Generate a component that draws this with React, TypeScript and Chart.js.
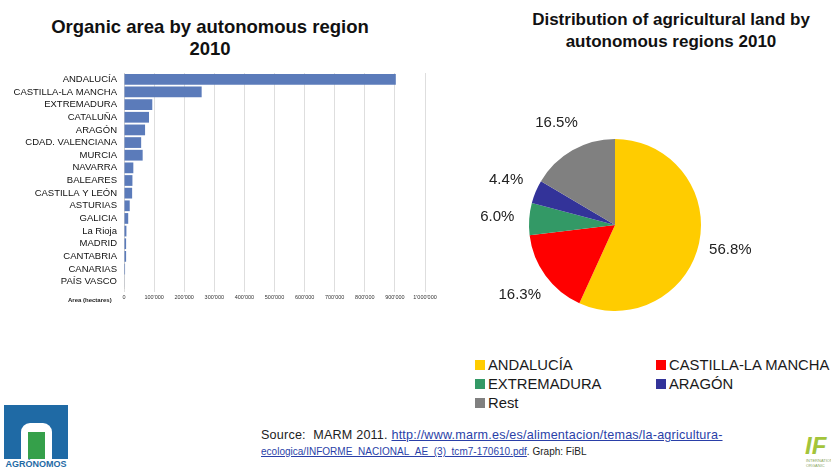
import React, { useEffect, useRef } from "react";
import { Chart, registerables } from "chart.js";

Chart.register(...registerables);

// ---------- data ----------
const regions = [
  "ANDALUCÍA",
  "CASTILLA-LA MANCHA",
  "EXTREMADURA",
  "CATALUÑA",
  "ARAGÓN",
  "CDAD. VALENCIANA",
  "MURCIA",
  "NAVARRA",
  "BALEARES",
  "CASTILLA Y LEÓN",
  "ASTURIAS",
  "GALICIA",
  "La Rioja",
  "MADRID",
  "CANTABRIA",
  "CANARIAS",
  "PAÍS VASCO",
];
const organicArea = [
  903000, 258000, 94000, 83000, 70000, 57000, 62000, 31000, 28000, 27000,
  19000, 14000, 8000, 7000, 7000, 3500, 1500,
];
const xTickLabels = [
  "0",
  "100'000",
  "200'000",
  "300'000",
  "400'000",
  "500'000",
  "600'000",
  "700'000",
  "800'000",
  "900'000",
  "1'000'000",
];
const pieLabels = ["ANDALUCÍA", "CASTILLA-LA MANCHA", "EXTREMADURA", "ARAGÓN", "Rest"];
const pieShares = [56.8, 16.3, 6.0, 4.4, 16.5];
const pieColors = ["#FFCC00", "#FF0000", "#339966", "#333399", "#808080"];

const FONT = '"Liberation Sans", Arial, Helvetica, sans-serif';

const pieLabelPlugin = {
  id: "pieOutsideLabels",
  afterDatasetsDraw(chart: any) {
    const ctx = chart.ctx;
    const meta = chart.getDatasetMeta(0);
    ctx.save();
    ctx.font = `15px ${FONT}`;
    ctx.fillStyle = "#222222";
    ctx.textAlign = "center";
    ctx.textBaseline = "middle";
    meta.data.forEach((arc: any, i: number) => {
      const p = arc.getProps(["x", "y", "startAngle", "endAngle", "outerRadius"], true);
      const mid = (p.startAngle + p.endAngle) / 2;
      const d = p.outerRadius + 32;
      ctx.fillText(
        pieShares[i].toFixed(1) + "%",
        p.x + Math.cos(mid) * d,
        p.y + Math.sin(mid) * d
      );
    });
    ctx.restore();
  },
};

function BarChart() {
  const ref = useRef<HTMLCanvasElement>(null);
  useEffect(() => {
    if (!ref.current) return;
    const chart = new Chart(ref.current, {
      type: "bar",
      data: {
        labels: regions,
        datasets: [
          {
            data: organicArea,
            backgroundColor: "#5B7BBA",
            borderWidth: 0,
            barPercentage: 0.85,
            categoryPercentage: 1.0,
          },
        ],
      },
      options: {
        indexAxis: "y",
        animation: false,
        responsive: false,
        maintainAspectRatio: false,
        events: [],
        layout: { padding: { top: 13, right: 15, left: 0, bottom: 0 } },
        plugins: {
          legend: { display: false },
          tooltip: { enabled: false },
          title: { display: false },
        },
        scales: {
          x: {
            min: 0,
            max: 1000000,
            ticks: {
              stepSize: 100000,
              autoSkip: false,
              maxRotation: 0,
              padding: 2,
              color: "#333333",
              font: { family: FONT, size: 5.5 },
              callback: (_v: any, i: number) => xTickLabels[i],
            },
            grid: { color: "#dedede", tickLength: 4, drawTicks: true },
            border: { display: false },
            afterFit: (s: any) => {
              s.height = 22;
            },
          },
          y: {
            ticks: {
              autoSkip: false,
              padding: 7,
              color: "#111111",
              font: { family: FONT, size: 9.5 },
            },
            grid: { display: false, drawTicks: false },
            border: { color: "#d0d0d0" },
            afterFit: (s: any) => {
              s.width = 124;
            },
          },
        },
      } as any,
    });
    return () => chart.destroy();
  }, []);
  return (
    <canvas
      ref={ref}
      width={440}
      height={250}
      style={{ position: "absolute", left: 0, top: 60, width: 440, height: 250 }}
    />
  );
}

function PieChart() {
  const ref = useRef<HTMLCanvasElement>(null);
  useEffect(() => {
    if (!ref.current) return;
    const chart = new Chart(ref.current, {
      type: "pie",
      data: {
        labels: pieLabels,
        datasets: [
          {
            data: pieShares,
            backgroundColor: pieColors,
            borderWidth: 0,
            hoverOffset: 0,
            offset: 0,
          },
        ],
      },
      options: {
        animation: false,
        responsive: false,
        maintainAspectRatio: false,
        events: [],
        layout: { padding: { left: 79, right: 79, top: 49, bottom: 39 } },
        plugins: {
          legend: { display: false },
          tooltip: { enabled: false },
          title: { display: false },
        },
      } as any,
      plugins: [pieLabelPlugin],
    });
    return () => chart.destroy();
  }, []);
  return (
    <canvas
      ref={ref}
      width={330}
      height={260}
      style={{ position: "absolute", left: 450, top: 90, width: 330, height: 260 }}
    />
  );
}

function Legend() {
  const rows = [
    [0, 1],
    [2, 3],
    [4],
  ];
  const colX = [475, 656];
  return (
    <>
      {rows.map((row, r) =>
        row.map((idx, c) => (
          <div
            key={idx}
            style={{
              position: "absolute",
              left: colX[c],
              top: 355 + r * 19,
              height: 19,
              display: "flex",
              alignItems: "center",
              fontFamily: FONT,
              fontSize: 14.8,
              color: "#1a1a1a",
              whiteSpace: "nowrap",
            }}
          >
            <span
              style={{
                display: "inline-block",
                width: 10,
                height: 10,
                background: pieColors[idx],
                marginRight: 3,
              }}
            />
            {pieLabels[idx]}
          </div>
        ))
      )}
    </>
  );
}

export default function App() {
  return (
    <div
      style={{
        position: "fixed",
        left: 0,
        top: 0,
        width: 831,
        height: 472,
        overflow: "hidden",
        background: "#ffffff",
        fontFamily: FONT,
      }}
    >
      <div
        style={{
          position: "absolute",
          left: 0,
          top: 16,
          width: 420,
          textAlign: "center",
          fontWeight: "bold",
          fontSize: 18.5,
          lineHeight: "22px",
          color: "#111",
        }}
      >
        Organic area by autonomous region
        <br />
        2010
      </div>
      <div
        style={{
          position: "absolute",
          left: 501,
          top: 9,
          width: 340,
          textAlign: "center",
          fontWeight: "bold",
          fontSize: 17,
          lineHeight: "22px",
          color: "#111",
        }}
      >
        Distribution of agricultural land by
        <br />
        autonomous regions 2010
      </div>

      <BarChart />
      <div
        style={{
          position: "absolute",
          left: 68,
          top: 297,
          fontWeight: "bold",
          fontSize: 6,
          color: "#222",
          whiteSpace: "nowrap",
        }}
      >
        Area (hectares)
      </div>

      <PieChart />
      <Legend />

      <div
        style={{
          position: "absolute",
          left: 261,
          top: 427,
          fontSize: 12.6,
          lineHeight: "16px",
          color: "#222",
          whiteSpace: "nowrap",
        }}
      >
        <div style={{ letterSpacing: 0.2 }}>
          Source:&nbsp; MARM 2011.{" "}
          <a
            href="http://www.marm.es/es/alimentacion/temas/la-agricultura-ecologica/INFORME_NACIONAL_AE_(3)_tcm7-170610.pdf"
            style={{ color: "#2a3fa8", textDecoration: "underline" }}
          >
            http://www.marm.es/es/alimentacion/temas/la-agricultura-
          </a>
        </div>
        <div
          style={{
            fontSize: 11.8,
            transform: "scaleX(0.85)",
            transformOrigin: "left center",
          }}
        >
          <a
            href="http://www.marm.es/es/alimentacion/temas/la-agricultura-ecologica/INFORME_NACIONAL_AE_(3)_tcm7-170610.pdf"
            style={{ color: "#2a3fa8", textDecoration: "underline" }}
          >
            ecologica/INFORME_NACIONAL_AE_(3)_tcm7-170610.pdf
          </a>
          . Graph: FiBL
        </div>
      </div>

      {/* left logo */}
      <div style={{ position: "absolute", left: 4, top: 405, width: 64, height: 54, background: "#1f6aa5" }} />
      <div
        style={{
          position: "absolute",
          left: 21,
          top: 423,
          width: 31,
          height: 36,
          background: "#ffffff",
          borderTopLeftRadius: 9,
          borderTopRightRadius: 9,
        }}
      />
      <div style={{ position: "absolute", left: 28, top: 432, width: 17, height: 27, background: "#35a04a" }} />
      <div
        style={{
          position: "absolute",
          left: 0,
          top: 459,
          width: 72,
          textAlign: "center",
          fontWeight: "bold",
          fontSize: 9,
          lineHeight: "10px",
          color: "#1f6aa5",
          whiteSpace: "nowrap",
        }}
      >
        AGRÓNOMOS
        <br />
        <span style={{ fontSize: 6 }}>ETSIAUPM</span>
      </div>

      {/* right logo */}
      <div
        style={{
          position: "absolute",
          left: 805,
          top: 433,
          fontWeight: "bold",
          fontStyle: "italic",
          fontSize: 24,
          lineHeight: "26px",
          color: "#a3c43a",
          whiteSpace: "nowrap",
        }}
      >
        IF
      </div>
      <div
        style={{
          position: "absolute",
          left: 806,
          top: 458,
          fontSize: 4,
          lineHeight: "5px",
          color: "#8aa55a",
          whiteSpace: "nowrap",
        }}
      >
        INTERNATIONAL
        <br />
        ORGANIC
      </div>
    </div>
  );
}
